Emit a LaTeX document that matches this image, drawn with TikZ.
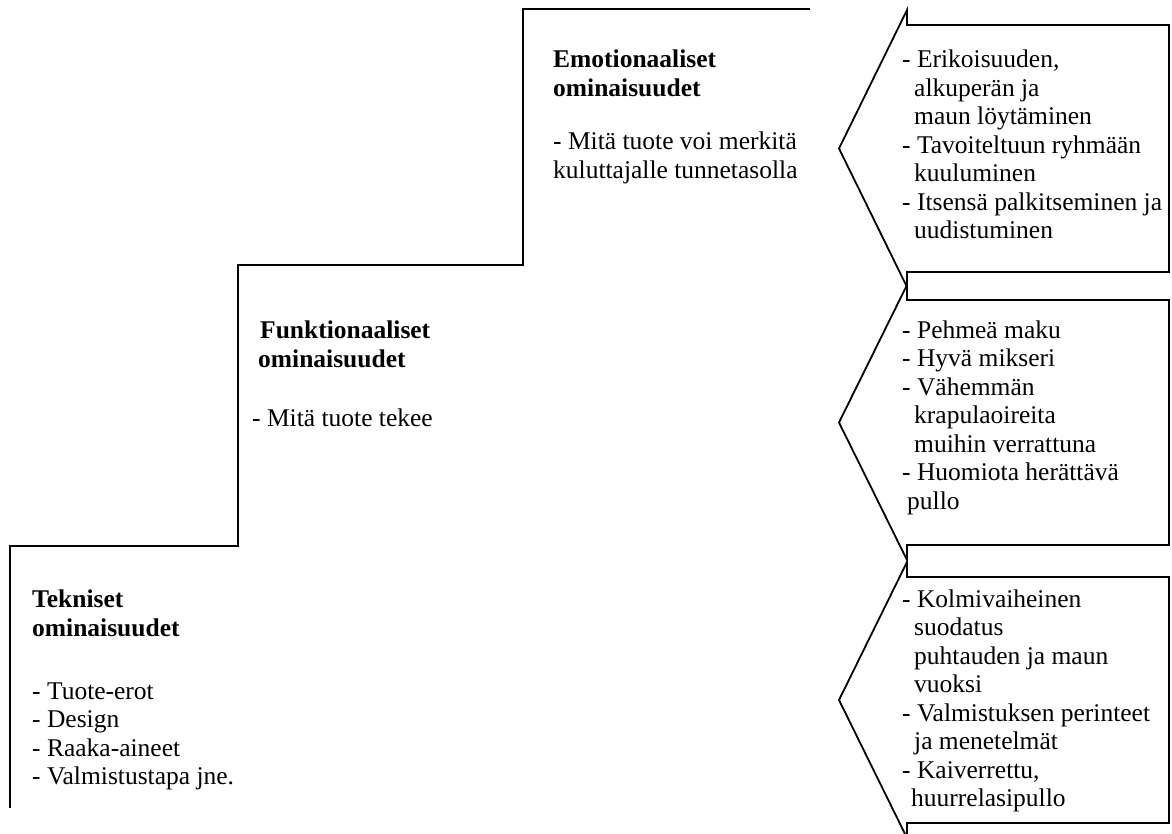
\documentclass[tikz,border=0pt]{standalone}
\usepackage{fontspec}
\setmainfont{Liberation Serif}
\newcommand{\blk}[1]{\begin{tabular}[t]{@{}l@{}}#1\end{tabular}}
\begin{document}
\begin{tikzpicture}[x=1pt,y=-1pt,
  edge/.style={line width=1.8pt, draw=black, line join=miter},
  txt/.style={anchor=base west, inner sep=0pt, font=\fontsize{25.5}{28.5}\selectfont},
  head/.style={anchor=base west, inner sep=0pt, font=\fontsize{25.5}{29}\selectfont\bfseries}]
\useasboundingbox (0,0) rectangle (1172,834);
% staircase
\coordinate (s0) at (10,808);
\coordinate (s1) at (10,546);
\coordinate (s2) at (238,546);
\coordinate (s3) at (238,265);
\coordinate (s4) at (523,265);
\coordinate (s5) at (523,9);
\coordinate (s6) at (810,9);
\draw[edge] (s0) -- (s1) -- (s2) -- (s3) -- (s4) -- (s5) -- (s6);
% callouts
\draw[edge] (907,25) -- (1169,25) -- (1169,272) -- (907,272) -- (907,287) -- (839,148.5) -- (907,10) -- cycle;
\draw[edge] (907,300) -- (1169,300) -- (1169,545) -- (907,545) -- (907,560) -- (839,422.5) -- (907,285) -- cycle;
\draw[edge] (907,577) -- (1169,577) -- (1169,823) -- (907,823) -- (907,838) -- (839,700) -- (907,562) -- cycle;
% stair texts
\node[head] (eh) at (553,68) {\blk{Emotionaaliset\\ominaisuudet}};
\node[txt] (eb) at (553,150) {\blk{- Mitä tuote voi merkitä\\kuluttajalle tunnetasolla}};
\node[head] (fh) at (252,338) {\blk{\hspace*{8pt}Funktionaaliset\\\hspace*{6pt}ominaisuudet}};
\node[txt] (fb) at (252,426) {- Mitä tuote tekee};
\node[head] (th) at (32,607) {\blk{Tekniset\\ominaisuudet}};
\node[txt] (tb) at (32,699) {\blk{- Tuote-erot\\- Design\\- Raaka-aineet\\- Valmistustapa jne.}};
% callout texts
\node[txt] (c1) at (902,68) {\blk{- Erikoisuuden,\\\hspace*{12pt}alkuperän ja\\\hspace*{12pt}maun löytäminen\\- Tavoiteltuun ryhmään\\\hspace*{12pt}kuuluminen\\- Itsensä palkitseminen ja\\\hspace*{12pt}uudistuminen}};
\node[txt] (c2) at (902,338) {\blk{- Pehmeä maku\\- Hyvä mikseri\\- Vähemmän\\\hspace*{12pt}krapulaoireita\\\hspace*{12pt}muihin verrattuna\\- Huomiota herättävä\\\hspace*{5pt}pullo}};
\node[txt] (c3) at (902,607) {\blk{- Kolmivaiheinen\\\hspace*{12pt}suodatus\\\hspace*{12pt}puhtauden ja maun\\\hspace*{12pt}vuoksi\\- Valmistuksen perinteet\\\hspace*{12pt}ja menetelmät\\- Kaiverrettu,\\\hspace*{9pt}huurrelasipullo}};
\end{tikzpicture}
\end{document}
